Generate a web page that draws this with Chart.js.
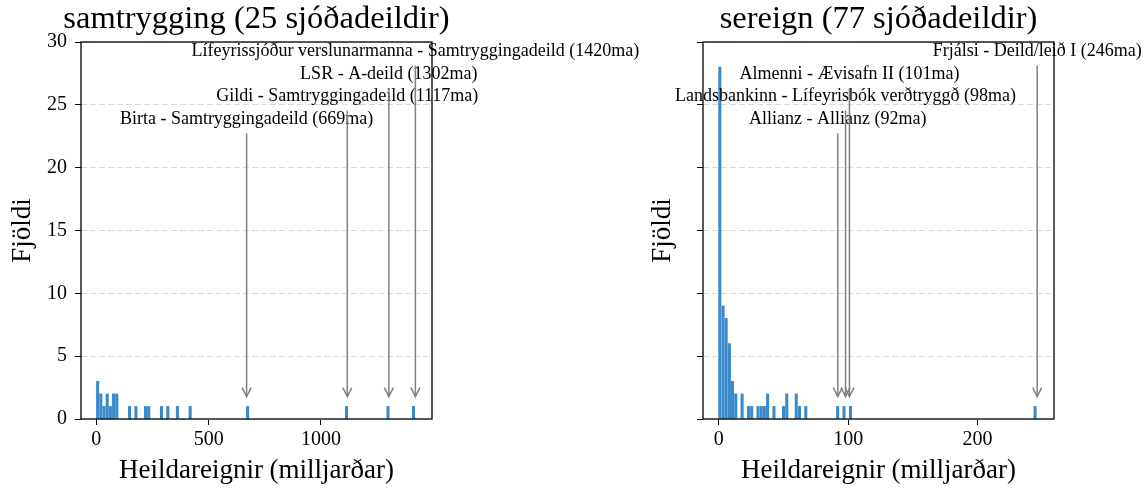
<!DOCTYPE html>
<html><head><meta charset="utf-8">
<script src="https://cdn.jsdelivr.net/npm/chart.js@4.4.1/dist/chart.umd.min.js"></script>
<style>
html,body{margin:0;padding:0;background:#fff;}
#wrap{position:relative;width:1146px;height:491px;overflow:hidden;}
canvas{position:absolute;top:0;}
</style></head><body>
<div id="wrap">
<canvas id="c1" width="700" height="491" style="left:0;width:700px;height:491px"></canvas>
<canvas id="c2" width="573" height="491" style="left:573px;width:573px;height:491px"></canvas>
</div>
<script>
// ---- data ----
const samtBinCenters = [6, 20.2, 34.4, 48.6, 62.8, 77, 91.2, 148, 176.4, 219, 233.2, 290, 318.4, 361, 417.8, 673.4, 1113.6, 1298.2, 1411.8];
const samtCounts     = [3, 2, 1, 2, 1, 2, 2, 1, 1, 1, 1, 1, 1, 1, 1, 1, 1, 1, 1];
const sereignBinCenters = [0.9, 3.4, 5.8, 8.3, 10.7, 13.2, 18.1, 23, 25.5, 30.4, 32.9, 35.3, 37.8, 42.7, 50.1, 52.6, 59.9, 62.4, 67.3, 91.9, 96.8, 101.8, 244.4];
const sereignCounts     = [28, 9, 8, 6, 3, 2, 2, 1, 1, 1, 1, 1, 2, 1, 1, 2, 2, 1, 1, 1, 1, 1, 1];

const samtTopNames  = ['Lífeyrissjóður verslunarmanna - Samtryggingadeild', 'LSR - A-deild', 'Gildi - Samtryggingadeild', 'Birta - Samtryggingadeild'];
const samtTopAssets = [1420, 1302, 1117, 669];
const samtTopCounts = [1, 1, 1, 1];
const sereignTopNames  = ['Frjálsi - Deild/leið I', 'Almenni - Ævisafn II', 'Landsbankinn - Lífeyrisbók verðtryggð', 'Allianz - Allianz'];
const sereignTopAssets = [246, 101, 98, 92];
const sereignTopCounts = [1, 1, 1, 1];

const yTicks = [0, 5, 10, 15, 20, 25, 30];
const samtXTicks = [0, 500, 1000];
const sereignXTicks = [0, 100, 200];
const labelLevels = [29.25, 27.45, 25.65, 23.85];

const titles = ['samtrygging (25 sjóðadeildir)', 'sereign (77 sjóðadeildir)'];
const xLabel = 'Heildareignir (milljarðar)';
const yLabel = 'Fjöldi';

// ---- style ----
const FONT = '"Liberation Serif", "Times New Roman", serif';
const BAR = '#3a89cb';
const TITLE_SIZE = 32.5, AXIS_SIZE = 27, TICK_SIZE = 20, ANN_SIZE = 18;

function makePanel(id, opt) {
  const overlay = {
    id: 'overlay',
    afterDraw(chart) {
      const {ctx, chartArea: a, scales: {x, y}} = chart;
      ctx.save();
      ctx.fillStyle = '#000';
      ctx.textAlign = 'center';
      ctx.textBaseline = 'middle';
      ctx.font = `${TITLE_SIZE}px ${FONT}`;
      ctx.fillText(opt.title, (a.left + a.right) / 2, 19);
      ctx.font = `${AXIS_SIZE}px ${FONT}`;
      ctx.fillText(xLabel, (a.left + a.right) / 2, 471);
      ctx.save();
      ctx.translate(opt.yLabelX, (a.top + a.bottom) / 2);
      ctx.rotate(-Math.PI / 2);
      ctx.fillText(yLabel, 0, 0);
      ctx.restore();
      // annotation texts
      ctx.font = `${ANN_SIZE}px ${FONT}`;
      const pts = opt.names.map((n, i) => {
        const px = x.getPixelForValue(opt.assets[i]);
        const ty = y.getPixelForValue(labelLevels[i]);
        ctx.fillText(`${n} (${opt.assets[i]}ma)`, px, ty);
        return {px, ty, tip: y.getPixelForValue(opt.topCounts[i] + 1) + 2.7};
      });
      // arrows
      ctx.strokeStyle = '#808080';
      ctx.lineWidth = 1.5;
      pts.forEach(p => {
        ctx.beginPath(); ctx.moveTo(p.px, p.ty + 14); ctx.lineTo(p.px, p.tip); ctx.stroke();
        ctx.beginPath(); ctx.moveTo(p.px - 4.5, p.tip - 9); ctx.lineTo(p.px, p.tip); ctx.lineTo(p.px + 4.5, p.tip - 9); ctx.stroke();
      });
      // frame
      ctx.strokeStyle = '#000';
      ctx.lineWidth = 1.3;
      ctx.strokeRect(a.left, a.top, a.right - a.left, a.bottom - a.top);
      ctx.restore();
    }
  };
  return new Chart(document.getElementById(id), {
    type: 'bar',
    data: {datasets: [{
      data: opt.centers.map((c, i) => ({x: c, y: opt.counts[i]})),
      backgroundColor: BAR, borderWidth: 0, barThickness: 2.4
    }]},
    options: {
      responsive: false, animation: false, devicePixelRatio: 1,
      layout: {padding: {left: 0, top: 42, right: opt.padRight, bottom: 0}},
      plugins: {legend: {display: false}, tooltip: {enabled: false}, title: {display: false}},
      scales: {
        x: {
          type: 'linear', min: opt.xmin, max: opt.xmax, offset: false,
          afterBuildTicks(s) { s.ticks = opt.xTicks.map(v => ({value: v})); },
          afterFit(s) { s.height = 72; },
          grid: {display: true, drawOnChartArea: false, drawTicks: true, tickLength: 6, tickColor: '#000', tickWidth: 1, offset: false},
          border: {display: false},
          ticks: {font: {family: FONT, size: TICK_SIZE}, color: '#000', padding: 3, maxRotation: 0, autoSkip: false, callback: v => String(v)}
        },
        y: {
          type: 'linear', min: 0, max: 30,
          afterBuildTicks(s) { s.ticks = yTicks.map(v => ({value: v})); },
          afterFit(s) { s.width = opt.yWidth; },
          grid: {color: '#d9d9d9', lineWidth: 1, drawTicks: true, tickLength: 6, tickColor: '#000', tickWidth: 1, tickBorderDash: []},
          border: {display: false, dash: [6, 3]},
          ticks: {font: {family: FONT, size: TICK_SIZE}, color: '#000', padding: 8, autoSkip: false,
                  callback: v => opt.showY ? String(v) : ''}
        }
      }
    },
    plugins: [overlay]
  });
}

makePanel('c1', {
  centers: samtBinCenters, counts: samtCounts, names: samtTopNames, assets: samtTopAssets, topCounts: samtTopCounts,
  xTicks: samtXTicks, xmin: -68, xmax: 1494, title: titles[0], yWidth: 81, padRight: 700 - 432, yLabelX: 23, showY: true
});
makePanel('c2', {
  centers: sereignBinCenters, counts: sereignCounts, names: sereignTopNames, assets: sereignTopAssets, topCounts: sereignTopCounts,
  xTicks: sereignXTicks, xmin: -12.1, xmax: 259, title: titles[1], yWidth: 130, padRight: 573 - 481, yLabelX: 90, showY: false
});
</script>
</body></html>
